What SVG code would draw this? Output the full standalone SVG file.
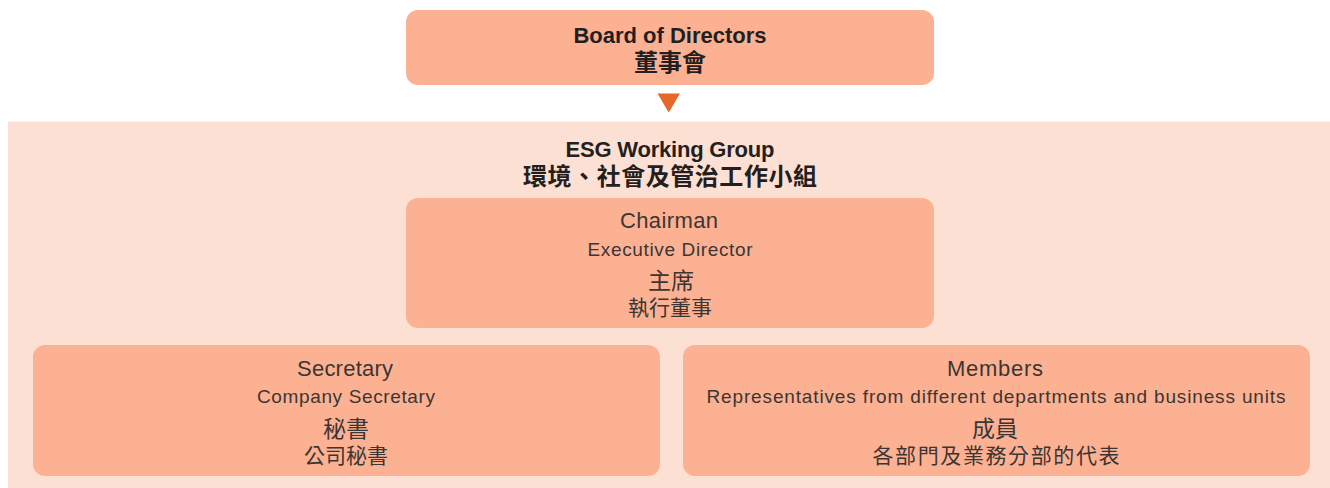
<svg xmlns="http://www.w3.org/2000/svg" width="1330" height="488" viewBox="0 0 1330 488">
  <style>
    .box { fill: #FDB193; }
    .panel { fill: #FDE0D4; }
    .b { font-family: "Liberation Sans", "Noto Sans CJK TC", sans-serif; font-weight: bold; fill: #231F20; text-anchor: middle; }
    .r { font-family: "Liberation Sans", "Noto Sans CJK TC", sans-serif; fill: #3B3634; text-anchor: middle; }
    .c { font-family: "Noto Sans CJK TC", sans-serif; fill: #3B3634; text-anchor: middle; }
    .cb { font-family: "Noto Sans CJK TC", sans-serif; font-weight: bold; fill: #231F20; text-anchor: middle; }
  </style>
  <rect width="1330" height="488" fill="#FFFFFF"/>
  <g id="esg-working-group">
    <rect class="panel" x="8" y="121.5" width="1322" height="367"/>
    <text class="b" x="670" y="157" font-size="22" textLength="209">ESG Working Group</text>
    <text class="cb" x="670" y="185" font-size="24" textLength="294">環境、社會及管治工作小組</text>
  </g>
  <g id="board">
    <rect class="box" x="406" y="10" width="528" height="75" rx="12"/>
    <text class="b" x="670" y="42.5" font-size="22" textLength="193">Board of Directors</text>
    <text class="cb" x="670" y="70.5" font-size="24">董事會</text>
  </g>
  <g id="connectors">
    <polygon points="657.5,93.5 680,93.5 668.75,112.5" fill="#E5672C"/>
  </g>
  <g id="chairman">
    <rect class="box" x="406" y="198" width="528" height="130" rx="12"/>
    <text class="r" x="669" y="228" font-size="22" textLength="98">Chairman</text>
    <text class="r" x="670" y="255.5" font-size="19" textLength="165">Executive Director</text>
    <text class="c" x="671" y="289" font-size="23">主席</text>
    <text class="c" x="670" y="315" font-size="21">執行董事</text>
  </g>
  <g id="secretary">
    <rect class="box" x="33" y="345" width="627" height="131" rx="12"/>
    <text class="r" x="345" y="376" font-size="22" textLength="96">Secretary</text>
    <text class="r" x="346" y="402.5" font-size="19" textLength="178">Company Secretary</text>
    <text class="c" x="346" y="437" font-size="23">秘書</text>
    <text class="c" x="346" y="463" font-size="21">公司秘書</text>
  </g>
  <g id="members">
    <rect class="box" x="683" y="345" width="627" height="131" rx="12"/>
    <text class="r" x="995" y="376" font-size="22" textLength="96">Members</text>
    <text class="r" x="996" y="402.5" font-size="19" textLength="579">Representatives from different departments and business units</text>
    <text class="c" x="995" y="437" font-size="23">成員</text>
    <text class="c" x="996" y="463" font-size="21" textLength="247">各部門及業務分部的代表</text>
  </g>
</svg>
